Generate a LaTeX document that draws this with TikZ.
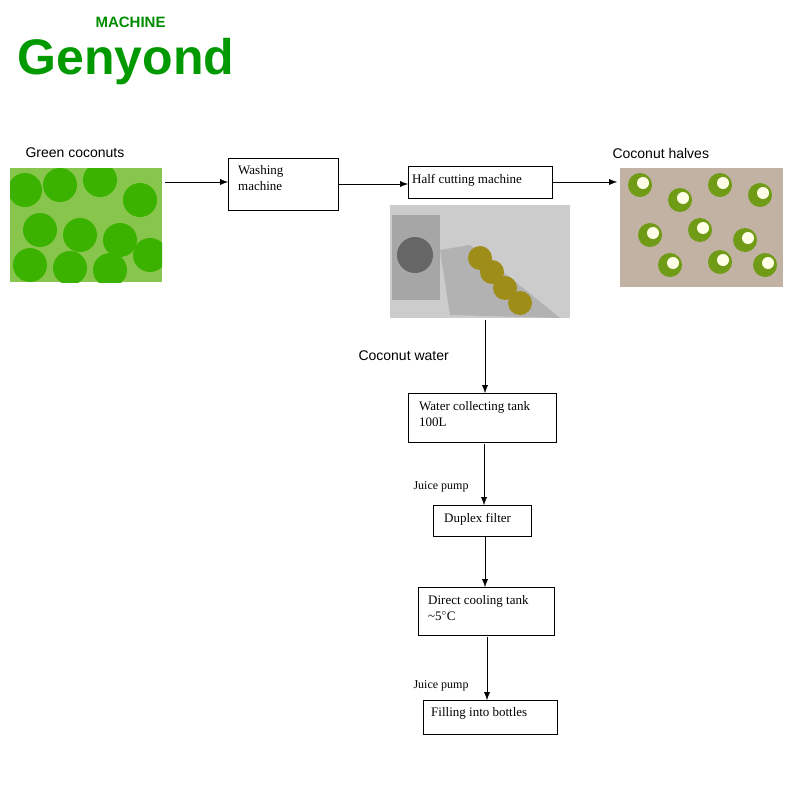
\documentclass[tikz,border=0pt]{standalone}
\usepackage{fontspec}
\usetikzlibrary{arrows.meta}
\setmainfont{Liberation Serif}
\newfontfamily\lsans{Liberation Sans}
\begin{document}
\begin{tikzpicture}[x=1pt,y=-1pt,
  box/.style={draw,thick,anchor=north west,inner sep=0pt,font=\fontsize{12.5}{15}\selectfont},
  btxt/.style={anchor=north west,align=left,inner sep=0pt,font=\fontsize{13}{16}\selectfont},
  lbl/.style={font=\lsans\fontsize{14}{16}\selectfont,anchor=west},
  small/.style={font=\fontsize{12}{13}\selectfont,anchor=west},
  arr/.style={-{Latex[length=8pt,width=6pt]}}]
\useasboundingbox (0,0) rectangle (800,800);
% logo
\node[anchor=west,text=green!55!black,font=\lsans\bfseries\fontsize{15}{16}\selectfont] (mach) at (92,22) {MACHINE};
\node[anchor=west,text=green!60!black,font=\lsans\bfseries\fontsize{50}{52}\selectfont] (logo) at (14,62) {Genyond};
% photos
\begin{scope}
\clip (10,168) rectangle (162,282);
\fill[green!35!olive!70] (10,168) rectangle (162,282);
\foreach \x/\y in {25/190,60/185,100/180,140/200,40/230,80/235,120/240,150/255,30/265,70/268,110/270} \fill[green!55!lime!70!black] (\x,\y) circle (17);
\end{scope}
\begin{scope}
\clip (620,168) rectangle (783,287);
\fill[gray!60!brown!60] (620,168) rectangle (783,287);
\foreach \x/\y in {640/185,680/200,720/185,760/195,650/235,700/230,745/240,670/265,720/262,765/265} {\fill[olive!60!green] (\x,\y) circle (12); \fill[white!90!yellow] (\x+3,\y-2) circle (6);}
\end{scope}
\begin{scope}
\clip (390,205) rectangle (570,318);
\fill[gray!40] (390,205) rectangle (570,318);
\fill[gray!70] (392,215) rectangle (440,300);
\fill[black!60] (415,255) circle (18);
\fill[gray!60] (450,315) -- (560,318) -- (470,245) -- (440,250) -- cycle;
\foreach \x/\y in {480/258,492/272,505/288,520/303} \fill[olive!70!brown] (\x,\y) circle (12);
\end{scope}
% text
\node[lbl] (gc) at (22,153) {Green coconuts};
\node[lbl] (ch) at (609,153) {Coconut halves};
\node[lbl] (cw) at (355,356) {Coconut water};
\node[box,minimum width=110pt,minimum height=52pt] (wash) at (228,158) {};
\node[btxt] (washt) at (238,165) {Washing\\machine};
\node[box,minimum width=144pt,minimum height=32pt] (half) at (408,166) {};
\node[btxt] (halft) at (412,174) {Half cutting machine};
\node[box,minimum width=148pt,minimum height=49pt] (tank) at (408,393) {};
\node[btxt] (tankt) at (419,401) {Water collecting tank\\100L};
\node[box,minimum width=98pt,minimum height=31pt] (dup) at (433,505) {};
\node[btxt] (dupt) at (444,513) {Duplex filter};
\node[box,minimum width=136pt,minimum height=48pt] (cool) at (418,587) {};
\node[btxt] (coolt) at (428,595) {Direct cooling tank\\\textasciitilde5$^{\circ}$C};
\node[box,minimum width=134pt,minimum height=34pt] (fill) at (423,700) {};
\node[btxt] (fillt) at (431,707) {Filling into bottles};
\node[small] (jp1) at (410,487) {Juice pump};
\node[small] (jp2) at (410,686) {Juice pump};
\coordinate (a0) at (165,182);
\coordinate (a1) at (617,182);
\coordinate (b0) at (485,320);
\draw[arr] (a0) -- (wash.west |- a0);
\draw[arr] (wash.east |- 0,184) -- (half.west |- 0,184);
\draw[arr] (half.east |- a1) -- (a1);
\draw[arr] (b0) -- (b0 |- tank.north);
\draw[arr] (484,444) -- (484,505);
\draw[arr] (485,537) -- (485,587);
\draw[arr] (487,637) -- (487,700);
\end{tikzpicture}
\end{document}
